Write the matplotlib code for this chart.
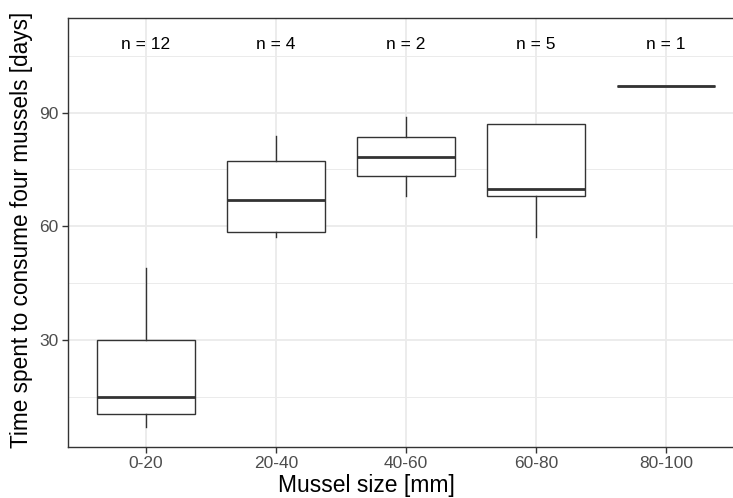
import numpy as np
import matplotlib
matplotlib.use('Agg')
import matplotlib.pyplot as plt

plt.rcParams['font.family'] = ['Liberation Sans', 'DejaVu Sans']

# categories and box statistics
sizes = ['0-20', '20-40', '40-60', '60-80', '80-100']
counts = [12, 4, 2, 5, 1]
whislo = [7.1, 57.1, 68.0, 57.1, 97.0]
q1 = [10.5, 58.5, 73.2, 67.9, 97.0]
med = [15.0, 67.0, 78.4, 69.9, 97.0]
q3 = [30.0, 77.2, 83.7, 86.9, 97.0]
whishi = [48.9, 83.9, 88.8, 86.9, 97.0]

stats = []
for i in range(len(sizes)):
    stats.append({'whislo': whislo[i], 'q1': q1[i], 'med': med[i],
                  'q3': q3[i], 'whishi': whishi[i], 'fliers': [], 'label': sizes[i]})

fig = plt.figure(figsize=(7.33, 4.98), dpi=100)
# panel runs past the right edge, like the reference
ax = fig.add_axes([68 / 733, (498 - 446.7) / 498, 676 / 733, 428.4 / 498])

pos = np.arange(1, len(sizes) + 1)
edge = '#333333'
ax.bxp(stats, positions=pos, widths=0.75, showcaps=False, patch_artist=True,
       boxprops=dict(facecolor='white', edgecolor=edge, linewidth=1.0),
       whiskerprops=dict(color=edge, linewidth=1.0),
       medianprops=dict(color=edge, linewidth=2.0),
       zorder=3)

for i in range(len(sizes)):
    ax.text(pos[i], 108, 'n = %d' % counts[i], ha='center', va='center',
            fontsize=12.5, color='black', zorder=4)

ax.set_xlim(0.4, 5.6)
ax.set_ylim(1.83, 114.9)
ax.set_yticks([30, 60, 90])
ax.set_yticks([15, 45, 75, 105], minor=True)
ax.set_xticks(pos)
ax.set_xticklabels(sizes)

ax.grid(True, which='major', color='#EBEBEB', linewidth=1.3, zorder=0)
ax.grid(True, which='minor', axis='y', color='#EBEBEB', linewidth=0.7, zorder=0)
ax.set_axisbelow(True)
ax.tick_params(which='minor', length=0)
ax.tick_params(which='major', length=4, width=1, color=edge, labelcolor='#4D4D4D',
               labelsize=12.5, pad=3)
for s in ax.spines.values():
    s.set_color(edge)
    s.set_linewidth(1.0)

ax.set_xlabel('Mussel size [mm]', fontsize=16.5, color='black')
ax.set_ylabel('Time spent to consume four mussels [days]', fontsize=16.3, color='black')
ax.xaxis.set_label_coords((366 - 68) / 676, -0.064)
ax.yaxis.set_label_coords(-0.052, 0.5 - (229 - 232) / 428.4)

fig.savefig('out.png', dpi=100)
